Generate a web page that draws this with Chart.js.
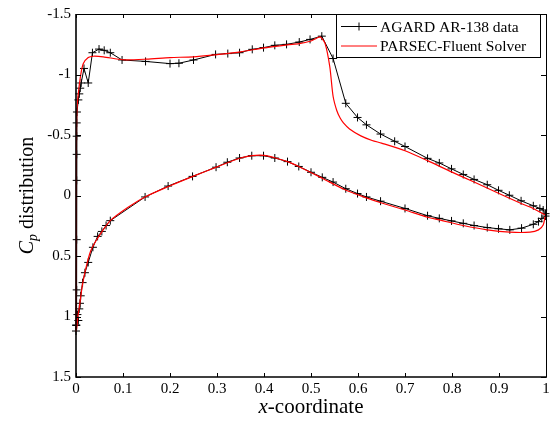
<!DOCTYPE html>
<html>
<head>
<meta charset="utf-8">
<title>Cp distribution</title>
<script src="https://cdn.jsdelivr.net/npm/chart.js@4.4.0/dist/chart.umd.min.js"></script>
<style>
  html, body { margin: 0; padding: 0; background: #fff; }
  canvas { display: block; }
</style>
</head>
<body>
<canvas id="cp-chart" width="554" height="421"></canvas>
<script>
// AGARD AR-138 measured data, upper surface from leading edge to trailing edge
const agardUpperX = [0.0, 0.0005, 0.0015, 0.0015, 0.0015, 0.0015, 0.0015, 0.0015, 0.002, 0.005,
  0.007, 0.009, 0.011, 0.017, 0.026, 0.035, 0.049, 0.06, 0.073, 0.098,
  0.148, 0.2, 0.219, 0.25, 0.297, 0.323, 0.348, 0.375, 0.399, 0.423,
  0.448, 0.475, 0.498, 0.523, 0.547, 0.574, 0.599, 0.618, 0.648, 0.678,
  0.7, 0.748, 0.773, 0.799, 0.824, 0.847, 0.875, 0.899, 0.922, 0.947,
  0.973, 0.987, 0.994, 0.999];
const agardUpperCp = [1.12, 1.07, 0.78, 0.365, -0.125, -0.34, -0.49, -0.6, -0.69, -0.79,
  -0.84, -0.887, -0.93, -1.05, -0.93, -1.18, -1.21, -1.2, -1.18, -1.12,
  -1.108, -1.09, -1.093, -1.12, -1.166, -1.173, -1.18, -1.208, -1.222, -1.241,
  -1.249, -1.268, -1.29, -1.317, -1.132, -0.762, -0.645, -0.584, -0.508, -0.448,
  -0.405, -0.307, -0.269, -0.22, -0.174, -0.133, -0.089, -0.043, -0.002, 0.044,
  0.085, 0.107, 0.12, 0.15];

// AGARD lower surface, leading edge to trailing edge
const agardLowerX = [0.0005, 0.005, 0.003, 0.007, 0.0085, 0.01, 0.014, 0.019, 0.026, 0.036,
  0.046, 0.055, 0.064, 0.073, 0.147, 0.196, 0.248, 0.298, 0.322, 0.348,
  0.374, 0.399, 0.423, 0.45, 0.474, 0.5, 0.524, 0.547, 0.574, 0.599,
  0.618, 0.648, 0.7, 0.748, 0.773, 0.799, 0.824, 0.847, 0.875, 0.899,
  0.923, 0.948, 0.973, 0.984, 0.991, 0.999];
const agardLowerCp = [1.074, 1.033, 0.984, 0.937, 0.891, 0.829, 0.72, 0.638, 0.553, 0.428,
  0.338, 0.297, 0.248, 0.208, 0.012, -0.078, -0.158, -0.234, -0.275, -0.31,
  -0.329, -0.329, -0.31, -0.28, -0.24, -0.192, -0.15, -0.111, -0.056, -0.016,
  0.012, 0.047, 0.107, 0.167, 0.189, 0.21, 0.23, 0.248, 0.265, 0.275,
  0.284, 0.27, 0.238, 0.216, 0.189, 0.17];

// PARSEC-Fluent solution, upper surface
const parsecUpperX = [0.0, 0.0007, 0.0007, 0.001, 0.002, 0.005, 0.01, 0.0156, 0.026, 0.037,
  0.058, 0.1, 0.15, 0.2, 0.25, 0.3, 0.35, 0.4, 0.45, 0.475,
  0.498, 0.512, 0.52, 0.53, 0.54, 0.547, 0.555, 0.562, 0.569, 0.582,
  0.606, 0.63, 0.65, 0.7, 0.748, 0.8, 0.847, 0.9, 0.947, 0.973,
  0.998];
const parsecUpperCp = [1.12, 0.5, 0.0, -0.5, -0.71, -0.846, -0.996, -1.09, -1.14, -1.151,
  -1.146, -1.122, -1.127, -1.14, -1.146, -1.165, -1.187, -1.22, -1.245, -1.255,
  -1.275, -1.30, -1.31, -1.255, -1.064, -0.82, -0.70, -0.64, -0.6, -0.55,
  -0.493, -0.455, -0.433, -0.37, -0.288, -0.193, -0.111, -0.016, 0.066, 0.107,
  0.16];

// PARSEC-Fluent solution, lower surface
const parsecLowerX = [0.0015, 0.004, 0.007, 0.014, 0.023, 0.031, 0.04, 0.055, 0.073, 0.11,
  0.147, 0.2, 0.25, 0.3, 0.35, 0.375, 0.4, 0.425, 0.45, 0.477,
  0.523, 0.57, 0.618, 0.647, 0.7, 0.748, 0.773, 0.824, 0.875, 0.923,
  0.966, 0.984, 0.994, 0.998];
const parsecLowerCp = [1.1, 1.0, 0.924, 0.733, 0.57, 0.461, 0.39, 0.3, 0.208, 0.1,
  0.012, -0.08, -0.16, -0.237, -0.31, -0.33, -0.332, -0.31, -0.28, -0.234,
  -0.145, -0.052, 0.02, 0.058, 0.12, 0.18, 0.202, 0.248, 0.284, 0.303,
  0.303, 0.284, 0.243, 0.175];

const xTicks = [0, 0.1, 0.2, 0.3, 0.4, 0.5, 0.6, 0.7, 0.8, 0.9, 1];
const yTicks = [-1.5, -1, -0.5, 0, 0.5, 1, 1.5];

const seriesNames = ['AGARD AR-138 data', 'PARSEC-Fluent Solver'];
const seriesColors = ['#000000', '#ff0000'];

const SERIF = "'Liberation Serif', 'Times New Roman', serif";

// upper surface trailing edge -> leading edge, then lower surface -> trailing edge
function wrapAirfoil(ux, ucp, lx, lcp) {
  const pts = ux.map((x, i) => ({ x: x, y: ucp[i] })).reverse();
  return pts.concat(lx.map((x, i) => ({ x: x, y: lcp[i] })));
}

/**
 * Box, inward ticks, axis titles and legend (MATLAB look).
 */
const framePlugin = {
  id: 'frame',
  afterDraw(chart) {
    const { ctx, chartArea: a, scales } = chart;
    const sx = scales.x, sy = scales.y;
    ctx.save();
    ctx.strokeStyle = '#000';

    // inward ticks on all four sides
    ctx.lineWidth = 1;
    ctx.beginPath();
    xTicks.forEach(v => {
      const px = Math.round(sx.getPixelForValue(v)) + 0.5;
      ctx.moveTo(px, a.bottom); ctx.lineTo(px, a.bottom - 4);
      ctx.moveTo(px, a.top); ctx.lineTo(px, a.top + 4);
    });
    yTicks.forEach(v => {
      const py = Math.round(sy.getPixelForValue(v)) + 0.5;
      ctx.moveTo(a.left, py); ctx.lineTo(a.left + 5, py);
      ctx.moveTo(a.right, py); ctx.lineTo(a.right - 5, py);
    });
    ctx.stroke();

    // frame
    ctx.beginPath();
    ctx.moveTo(a.left, a.top + 0.5); ctx.lineTo(a.right + 0.5, a.top + 0.5);
    ctx.lineTo(a.right + 0.5, a.bottom);
    ctx.stroke();
    ctx.lineWidth = 1.6;
    ctx.beginPath();
    ctx.moveTo(a.left, a.top); ctx.lineTo(a.left, a.bottom); ctx.lineTo(a.right + 1, a.bottom);
    ctx.stroke();

    // x title: italic x + "-coordinate"
    ctx.fillStyle = '#000';
    ctx.textBaseline = 'alphabetic';
    ctx.textAlign = 'left';
    const xi = 'italic 21px ' + SERIF, xn = '21px ' + SERIF;
    ctx.font = xi; const w1 = ctx.measureText('x').width;
    ctx.font = xn; const w2 = ctx.measureText('-coordinate').width;
    let tx = (a.left + a.right) / 2 - (w1 + w2) / 2;
    ctx.font = xi; ctx.fillText('x', tx, 413);
    ctx.font = xn; ctx.fillText('-coordinate', tx + w1, 413);

    // y title: C_p distribution, rotated
    ctx.save();
    ctx.translate(33, (a.top + a.bottom) / 2);
    ctx.rotate(-Math.PI / 2);
    const ci = 'italic 20px ' + SERIF, si = 'italic 14px ' + SERIF, dn = '20px ' + SERIF;
    ctx.font = ci; const c1 = ctx.measureText('C').width;
    ctx.font = si; const c2 = ctx.measureText('p').width;
    ctx.font = dn; const c3 = ctx.measureText(' distribution').width;
    let ty = -(c1 + c2 + c3) / 2;
    ctx.font = ci; ctx.fillText('C', ty, 0);
    ctx.font = si; ctx.fillText('p', ty + c1, 4);
    ctx.font = dn; ctx.fillText(' distribution', ty + c1 + c2, 0);
    ctx.restore();

    // legend box
    const lx = 336, ly = 14, lw = 204, lh = 43;
    ctx.fillStyle = '#fff';
    ctx.fillRect(lx, ly, lw, lh);
    ctx.lineWidth = 1;
    ctx.strokeStyle = '#000';
    ctx.strokeRect(lx + 0.5, ly + 0.5, lw, lh);
    ctx.font = '15.5px ' + SERIF;
    ctx.textBaseline = 'middle';
    seriesNames.forEach((name, i) => {
      const yy = ly + 12.5 + i * 19.5;
      ctx.strokeStyle = seriesColors[i];
      ctx.beginPath();
      ctx.moveTo(341, yy); ctx.lineTo(377, yy);
      if (i === 0) {
        ctx.moveTo(359, yy - 4); ctx.lineTo(359, yy + 4);
      }
      ctx.stroke();
      ctx.fillStyle = '#000';
      ctx.fillText(name, 380, yy + 1);
    });
    ctx.restore();
  }
};

const chart = new Chart(document.getElementById('cp-chart'), {
  type: 'scatter',
  data: {
    datasets: [
      {
        label: seriesNames[0],
        data: wrapAirfoil(agardUpperX, agardUpperCp, agardLowerX, agardLowerCp),
        showLine: true,
        borderColor: seriesColors[0],
        borderWidth: 1,
        tension: 0,
        pointStyle: 'cross',
        pointRadius: 4,
        pointBorderWidth: 1,
        pointBorderColor: seriesColors[0],
        pointBackgroundColor: seriesColors[0],
        clip: 6,
        order: 2
      },
      {
        label: seriesNames[1],
        data: wrapAirfoil(parsecUpperX, parsecUpperCp, parsecLowerX, parsecLowerCp),
        showLine: true,
        borderColor: seriesColors[1],
        borderWidth: 1.2,
        tension: 0.25,
        pointRadius: 0,
        clip: 6,
        order: 1
      }
    ]
  },
  options: {
    responsive: false,
    animation: false,
    events: [],
    layout: { padding: { top: 10, right: 8, left: 0, bottom: 0 } },
    plugins: {
      legend: { display: false },
      tooltip: { enabled: false }
    },
    scales: {
      x: {
        type: 'linear',
        min: 0,
        max: 1,
        grid: { display: false, drawTicks: false },
        border: { display: false },
        ticks: {
          stepSize: 0.1,
          padding: 3,
          color: '#000',
          font: { family: SERIF, size: 15 },
          callback: v => String(Math.round(v * 10) / 10)
        },
        afterFit: s => { s.height = 44; }
      },
      y: {
        type: 'linear',
        reverse: true,
        min: -1.5,
        max: 1.5,
        grid: { display: false, drawTicks: false },
        border: { display: false },
        ticks: {
          stepSize: 0.5,
          padding: 5,
          color: '#000',
          font: { family: SERIF, size: 15 },
          callback: v => String(v)
        },
        afterFit: s => { s.width = 76; }
      }
    }
  },
  plugins: [framePlugin]
});
</script>
</body>
</html>
